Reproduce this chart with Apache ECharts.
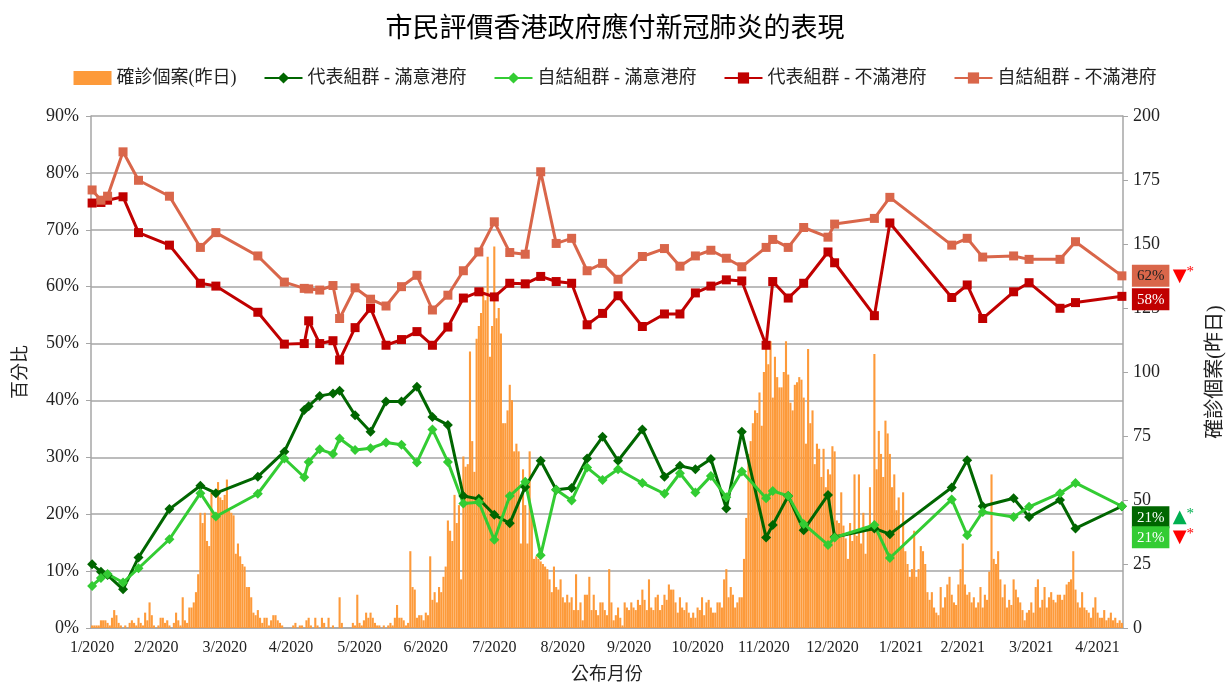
<!DOCTYPE html>
<html>
<head>
<meta charset="utf-8">
<script src="https://cdn.jsdelivr.net/npm/echarts@6/dist/echarts.min.js"></script>
<style>
html, body { margin: 0; padding: 0; background: #fff; }
#chart { width: 1230px; height: 686px; }
</style>
</head>
<body>
<div id="chart"></div>
<script>
// 每日確診 (昨日), 由 2020-01-31 起逐日
var firstDay = '2020-01-31';
var dailyCases = [
    1,1,1,1,3,3,3,2,1,4,  7,5,2,1,0,1,0,2,3,2,
    1,4,2,1,6,3,10,5,1,0, 1,4,4,2,3,1,0,2,6,3,
    1,12,3,2,8,8,10,14,21,45, 41,45,34,32,53,45,42,57,51,50,
    52,58,46,45,44,29,33,28,25,24, 16,16,12,6,5,7,4,2,4,4,
    1,3,5,5,3,2,1,0,0,0, 0,1,2,0,1,1,0,3,4,1,
    0,4,1,0,4,2,0,4,0,1, 0,0,12,2,0,0,0,0,2,1,
    13,2,1,3,6,4,6,4,2,1, 1,0,1,0,1,2,1,4,9,4,
    4,3,1,2,30,16,15,4,5,5, 3,6,5,28,11,14,10,16,14,20,
    24,42,38,34,52,41,48,19,67,63, 64,108,73,61,113,118,123,133,128,145,
    106,118,149,121,125,115,80,80,85,95, 89,69,72,69,33,62,48,33,69,44,
    27,28,27,26,25,24,23,19,14,24, 16,15,19,12,10,13,10,12,7,21,
    7,10,3,13,13,20,7,13,7,5, 10,10,7,5,23,10,3,5,8,4,
    1,10,8,7,10,8,7,11,9,15, 11,7,19,8,7,12,13,7,9,13,
    11,17,15,15,10,6,12,8,7,10, 6,4,6,4,8,7,12,5,10,11,
    8,6,6,10,10,8,19,23,12,16, 13,8,10,12,12,27,43,68,73,80,
    85,84,92,79,100,111,103,112,90,106, 98,94,94,100,112,99,88,85,95,96,
    98,97,90,72,109,80,85,64,72,70, 59,70,55,62,60,71,69,42,41,53,
    40,35,27,41,34,60,36,60,33,45, 29,38,55,40,107,62,77,68,59,81,
    76,68,55,60,46,51,32,53,30,25, 20,23,38,20,23,32,30,25,14,11,
    14,8,6,5,16,8,12,17,20,13, 10,9,17,23,33,17,13,14,10,12,
    8,10,16,8,13,11,22,60,27,25, 30,19,12,17,8,11,9,19,15,12,
    10,7,3,6,7,10,6,16,19,8, 11,16,8,12,14,11,10,13,13,11,
    13,17,18,19,30,15,10,8,14,8, 7,6,4,8,12,6,4,4,7,3,
    4,6,3,4,2,3,2
];

// 調查公布日期
var surveyDates = [
    '2020-01-31','2020-02-04','2020-02-07','2020-02-14','2020-02-21','2020-03-06','2020-03-20','2020-03-27',
    '2020-04-15','2020-04-27','2020-05-06','2020-05-08','2020-05-13','2020-05-19','2020-05-22','2020-05-29',
    '2020-06-05','2020-06-12','2020-06-19','2020-06-26','2020-07-03','2020-07-10','2020-07-17','2020-07-24',
    '2020-07-31','2020-08-07','2020-08-14','2020-08-21','2020-08-28','2020-09-04','2020-09-11','2020-09-18',
    '2020-09-25','2020-10-06','2020-10-16','2020-10-23','2020-10-30','2020-11-06','2020-11-13','2020-11-20',
    '2020-12-01','2020-12-04','2020-12-11','2020-12-18','2020-12-29','2021-01-01','2021-01-19','2021-01-26',
    '2021-02-23','2021-03-02','2021-03-09','2021-03-23','2021-03-30','2021-04-13','2021-04-20','2021-05-11'
];

var repSatisfied = [
    11.2,9.9,9.3,6.8,12.4,20.9,25.0,23.7,26.6,31.0,38.3,39.0,40.8,41.2,41.7,37.4,
    34.5,39.8,39.8,42.4,37.1,35.7,23.2,22.7,19.9,18.4,24.8,29.4,24.3,24.6,29.8,33.6,
    29.4,34.9,26.6,28.5,27.9,29.7,21.0,34.5,15.9,18.1,23.2,17.2,23.4,16.0,17.5,16.5,
    24.7,29.5,21.4,22.8,19.5,22.5,17.5,21.4
];
var selfSatisfied = [
    7.4,8.8,9.5,8.0,10.5,15.6,23.7,19.6,23.6,29.8,26.5,29.2,31.4,30.6,33.3,31.3,
    31.6,32.6,32.2,29.1,34.9,29.2,21.9,22.1,15.5,23.2,25.7,12.8,24.3,22.4,28.2,26.0,
    27.9,25.5,23.6,27.2,23.8,26.7,23.0,27.5,22.8,24.1,23.2,18.3,14.6,15.9,18.1,12.3,
    22.6,16.3,20.4,19.5,21.3,23.7,25.5,21.4
];
var repDissatisfied = [
    74.7,74.8,75.2,75.8,69.5,67.3,60.6,60.1,55.5,49.9,50.0,54.0,50.0,50.5,47.1,52.8,
    56.2,49.7,50.7,52.1,49.7,52.9,58.0,59.1,58.2,60.6,60.5,61.8,60.9,60.6,53.3,55.3,
    58.4,53.0,55.2,55.2,58.9,60.1,61.2,61.0,49.7,60.9,58.0,60.6,66.1,64.2,54.9,71.2,
    58.1,60.3,54.4,59.1,60.7,56.2,57.2,58.3
];
var selfDissatisfied = [
    77.0,75.2,75.9,83.7,78.7,75.9,66.9,69.5,65.4,60.8,59.7,59.6,59.4,60.2,54.4,59.8,
    57.8,56.6,60.0,62.0,55.9,58.5,62.8,66.1,71.4,66.0,65.7,80.2,67.6,68.5,62.8,64.1,
    61.3,65.3,66.7,63.6,65.4,66.4,65.0,63.5,66.9,68.3,66.9,70.4,68.7,71.0,72.0,75.7,
    67.3,68.5,65.2,65.4,64.8,64.8,67.9,61.9
];

// 最新一次的變化標記 (箭頭 + 顯著)
var changeArrow = { repSat: '▲', selfSat: '▼', repDis: '', selfDis: '▼' };

var FONT = "'Liberation Serif', 'Noto Sans CJK TC', serif";
var GRID = '#a6a6a6';

// 日期類別
var days = [];
var t0 = Date.parse(firstDay + 'T00:00:00Z');
for (var i = 0; i < dailyCases.length; i++) {
    days.push(new Date(t0 + i * 86400000).toISOString().slice(0, 10));
}
function isMonthEnd(idx) {
    var d = new Date(t0 + idx * 86400000);
    var n = new Date(t0 + (idx + 1) * 86400000);
    return d.getUTCMonth() !== n.getUTCMonth();
}

function lineData(vals) {
    return surveyDates.map(function (d, k) { return [days.indexOf(d), vals[k]]; });
}

function lineSeries(name, vals, color, symbol, size, arrow, arrowColor, boxText, offsetY) {
    return {
        name: name,
        type: 'line',
        data: lineData(vals),
        symbol: symbol,
        symbolSize: size,
        showAllSymbol: true,
        lineStyle: { color: color, width: 3 },
        itemStyle: { color: color },
        endLabel: {
            show: true,
            distance: 10,
            offset: [0, offsetY],
            formatter: function (p) {
                var s = '{box|' + Math.round(p.value[1]) + '%}';
                if (arrow) s += ' {tri|' + arrow + '}{ast|*}';
                return s;
            },
            rich: {
                box: { backgroundColor: color, color: boxText, fontFamily: FONT, fontSize: 15, padding: [4, 5, 3, 5] },
                tri: { color: arrowColor, fontFamily: 'DejaVu Sans', fontSize: 18 },
                ast: { color: arrowColor, fontFamily: FONT, fontSize: 15, verticalAlign: 'top' }
            }
        }
    };
}

var chart = echarts.init(document.getElementById('chart'));

var option = {
    animation: false,
    backgroundColor: '#fff',
    title: {
        text: '市民評價香港政府應付新冠肺炎的表現',
        left: 'center',
        top: 11,
        textStyle: { fontFamily: FONT, fontSize: 27, fontWeight: 'normal', color: '#000' }
    },
    legend: {
        top: 64,
        left: 'center',
        itemWidth: 38,
        itemHeight: 14,
        itemGap: 27,
        textStyle: { fontFamily: FONT, fontSize: 18, color: '#222' },
        data: [
            { name: '確診個案(昨日)', icon: 'rect' },
            '代表組群 - 滿意港府', '自結組群 - 滿意港府', '代表組群 - 不滿港府', '自結組群 - 不滿港府'
        ]
    },
    grid: { left: 91, right: 107, top: 116, bottom: 58, outerBoundsMode: 'none', containLabel: false },
    xAxis: {
        type: 'category',
        data: days,
        boundaryGap: true,
        name: '公布月份',
        nameLocation: 'middle',
        nameGap: 38,
        nameTextStyle: { fontFamily: FONT, fontSize: 18, color: '#222' },
        axisLine: { lineStyle: { color: GRID, width: 1.5 } },
        axisTick: {
            alignWithLabel: true,
            length: 6,
            interval: function (idx) { return isMonthEnd(idx); },
            lineStyle: { color: GRID }
        },
        axisLabel: {
            interval: function (idx) { return isMonthEnd(idx); },
            formatter: function (v) {
                var p = v.split('-');
                return parseInt(p[1], 10) + '/' + p[0];
            },
            fontFamily: FONT, fontSize: 16, color: '#222', margin: 12
        },
        splitLine: { show: false }
    },
    yAxis: [
        {
            type: 'value',
            min: 0, max: 90, interval: 10,
            name: '百分比',
            nameLocation: 'middle',
            nameRotate: 90,
            nameGap: 61,
            nameTextStyle: { fontFamily: FONT, fontSize: 18, color: '#222' },
            axisLine: { show: true, lineStyle: { color: GRID, width: 1.5 } },
            axisTick: { show: true, length: 5, lineStyle: { color: GRID } },
            axisLabel: { formatter: '{value}%', fontFamily: FONT, fontSize: 18, color: '#222', margin: 12 },
            splitLine: { show: true, lineStyle: { color: GRID, width: 1.5 } }
        },
        {
            type: 'value',
            position: 'right',
            min: 0, max: 200, interval: 25,
            name: '確診個案(昨日)',
            nameLocation: 'middle',
            nameRotate: 90,
            nameGap: 83,
            nameTextStyle: { fontFamily: FONT, fontSize: 20, color: '#222' },
            axisLine: { show: true, lineStyle: { color: GRID, width: 1.5 } },
            axisTick: { show: true, length: 5, lineStyle: { color: GRID } },
            axisLabel: { fontFamily: FONT, fontSize: 18, color: '#222', margin: 10 },
            splitLine: { show: false }
        }
    ],
    series: [
        {
            name: '確診個案(昨日)',
            type: 'bar',
            yAxisIndex: 1,
            data: dailyCases,
            barCategoryGap: '5%',
            itemStyle: { color: '#fd9a3a' }
        },
        lineSeries('代表組群 - 滿意港府', repSatisfied, '#006600', 'diamond', 10, changeArrow.repSat, '#00b050', '#fff', 11),
        lineSeries('自結組群 - 滿意港府', selfSatisfied, '#33cc33', 'diamond', 10, changeArrow.selfSat, '#ff0000', '#fff', 31),
        lineSeries('代表組群 - 不滿港府', repDissatisfied, '#c00000', 'rect', 9, changeArrow.repDis, '#ff0000', '#fff', 3),
        lineSeries('自結組群 - 不滿港府', selfDissatisfied, '#d9664a', 'rect', 9, changeArrow.selfDis, '#ff0000', '#222', 0)
    ]
};

chart.setOption(option);
</script>
</body>
</html>
